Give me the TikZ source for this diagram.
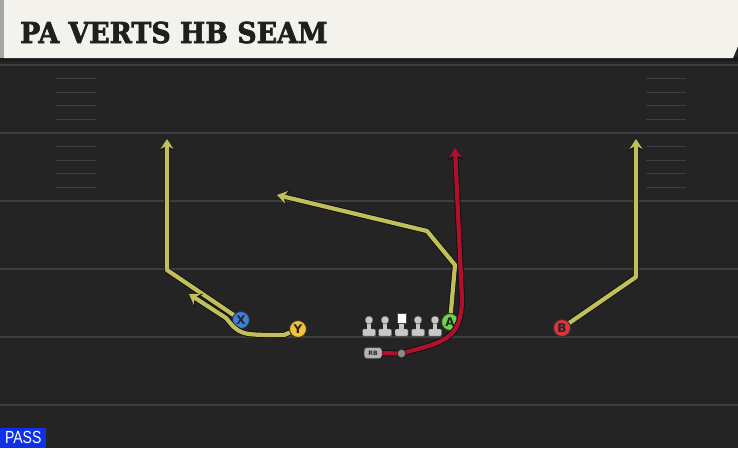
\documentclass[tikz,border=0pt]{standalone}
\usepackage{fontspec}
\usepackage{tikz}
\usetikzlibrary{positioning, arrows.meta, calc}
\newfontfamily\titlefont{DejaVu Serif}[FakeBold=2.4]
\newfontfamily\labelfont{DejaVu Sans}
\newfontfamily\passfont{Liberation Sans}
\definecolor{turf}{HTML}{242424}
\definecolor{yardline}{HTML}{3E3E3E}
\definecolor{banner}{HTML}{F4F2EC}
\definecolor{routeyellow}{HTML}{C0BF5A}
\definecolor{routered}{HTML}{B0102E}
\definecolor{routeedge}{HTML}{101010}
\definecolor{xblue}{HTML}{3F7FDA}
\definecolor{yyellow}{HTML}{F2C230}
\definecolor{agreen}{HTML}{6DD34B}
\definecolor{bred}{HTML}{E3323C}
\definecolor{passblue}{HTML}{1030E8}
\definecolor{linegray}{HTML}{C8C8C8}
\def\fieldw{738}
\def\fieldh{448}
\def\hashstep{13.6}

\begin{document}
\begin{tikzpicture}[x=1pt, y=-1pt,
    route/.style={draw=routeyellow, line width=4.2pt, line join=round,
        -{Stealth[length=10pt,width=13pt,inset=3.5pt]},
        preaction={draw=routeedge, line width=6pt, line join=round,
            -{Stealth[length=12pt,width=16pt,inset=4pt]}}},
    redroute/.style={route, draw=routered},
    player/.style={circle, draw=black!80, line width=0.9pt, minimum size=17pt,
        inner sep=0pt, text=black!85,
        font=\labelfont\bfseries\fontsize{12}{12}\selectfont},
    hash/.style={draw=yardline, line width=1.3pt}]

    \useasboundingbox (0,0) rectangle (\fieldw,\fieldh);

    % field
    \fill[turf] (0,0) rectangle (\fieldw,\fieldh);

    % draw yard lines
    \foreach \y in {65,133,201,269,337,405}
    {
        \draw[yardline, line width=2pt] (0,\y) -- (\fieldw,\y);
    }

    % draw hash marks
    \foreach \b in {65,133}
    {
        \foreach \k in {1,...,4}
        {
            \draw[hash] (56,{\b+\hashstep*\k}) -- (96,{\b+\hashstep*\k});
            \draw[hash] (646,{\b+\hashstep*\k}) -- (686,{\b+\hashstep*\k});
        }
    }

    % title banner
    \fill[black!90] (0,57) rectangle (\fieldw,61);
    \fill[banner] (4,0) -- (\fieldw,0) -- (\fieldw,46) -- (733,58) -- (4,58) -- cycle;
    \fill[black!35] (0,0) rectangle (4,58);
    \node[anchor=base west, inner sep=0pt, xscale=0.93, text=black!88,
        font=\titlefont\bfseries\fontsize{28.8}{30}\selectfont] (title) at (20,43) {PA VERTS HB SEAM};

    % offensive line
    \foreach \x in {369,385,418,435}
    {
        \fill[linegray, draw=black!70, line width=0.4pt, rounded corners=1pt]
            (\x-6.5,329) rectangle (\x+6.5,336);
        \fill[linegray] (\x-2.4,320) rectangle (\x+2.4,330);
        \fill[linegray, draw=black!70, line width=0.4pt] (\x,320) circle (4);
    }
    \fill[linegray, draw=black!70, line width=0.4pt, rounded corners=1pt]
        (395,329) rectangle (408,336);
    \fill[linegray] (399.1,320) rectangle (403.9,330);
    \fill[white, draw=black!70, line width=0.4pt] (397,313) rectangle (406,323);

    % backfield
    \node[fill=black!30, draw=black!75, line width=0.5pt, rounded corners=3pt,
        minimum width=18pt, minimum height=11pt, inner sep=0pt, text=black!85,
        font=\labelfont\bfseries\fontsize{6}{6}\selectfont] (RB) at (373,353) {RB};
    \node[circle, fill=black!45, draw=black!75, line width=0.4pt,
        minimum size=8pt, inner sep=0pt] (qb) at (401.5,353.5) {};

    % receivers
    \foreach \name/\px/\py/\co in {
        X/241/320/xblue,
        Y/298/329/yyellow,
        A/450/322/agreen,
        B/562/328/bred}
    {
        \node[player, fill=\co] (\name) at (\px,\py) {\name};
    }

    % route points
    \coordinate (x1) at (167,270);
    \coordinate (x2) at (167,139);
    \coordinate (y1) at (284,335);
    \coordinate (y2) at (240,335);
    \coordinate (y3) at (226,318);
    \coordinate (y4) at (189,294);
    \coordinate (a1) at (455,265);
    \coordinate (a2) at (427,231);
    \coordinate (a3) at (277,195);
    \coordinate (b1) at (636,277);
    \coordinate (b2) at (636,139);
    \coordinate (r1) at (425,347);
    \coordinate (r2) at (462,300);
    \coordinate (r3) at (455,148);

    % routes
    \draw[redroute] (RB) -- (qb) -- (r1) .. controls (452,339) and (461,330) .. (r2) -- (r3);
    \draw[route] (X) -- (x1) -- (x2);
    \draw[route] (Y) -- (y1) .. controls (y2) .. (y3) -- (y4);
    \draw[route] (A) -- (a1) -- (a2) -- (a3);
    \draw[route] (B) -- (b1) -- (b2);

    % play type
    \node[anchor=south west, fill=passblue, minimum width=46pt, minimum height=20pt,
        inner sep=0pt] (pass) at (0,\fieldh) {};
    \node[text=white, inner sep=0pt, xscale=0.8,
        font=\passfont\fontsize{17.5}{17.5}\selectfont] (passtext) at (pass.center) {PASS};
\end{tikzpicture}
\end{document}
